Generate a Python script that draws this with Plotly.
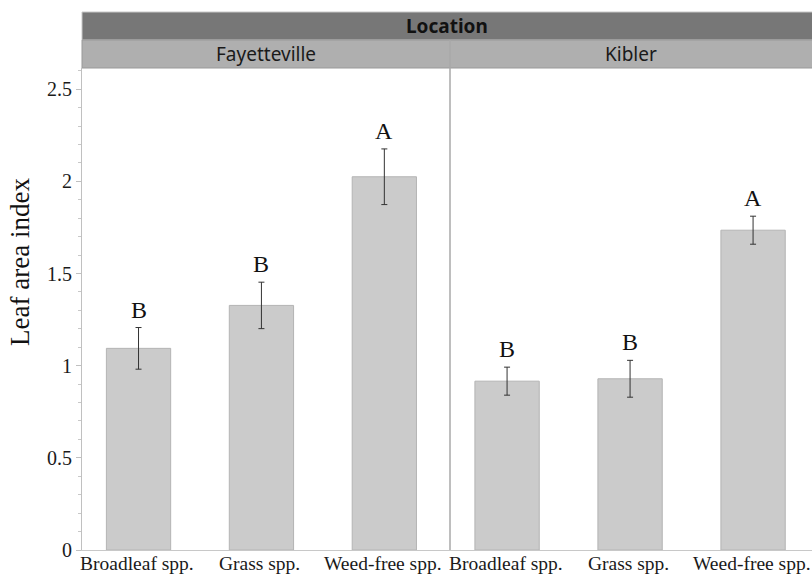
import plotly.graph_objects as go

# ---- data ----
categories = ["Broadleaf spp.", "Grass spp.", "Weed-free spp."]
locations = ["Fayetteville", "Kibler"]
fay_means = [1.094, 1.327, 2.025]
fay_errs = [0.113, 0.126, 0.151]
fay_letters = ["B", "B", "A"]
kib_means = [0.916, 0.929, 1.735]
kib_errs = [0.076, 0.100, 0.076]
kib_letters = ["B", "B", "A"]
y_ticks = [0, 0.5, 1, 1.5, 2, 2.5]
y_ticktext = ["0", "0.5", "1", "1.5", "2", "2.5"]

W, H = 812, 575
L, R, T, B = 82, 0, 68, 25
plot_w = W - L - R
plot_h = H - T - B
split = (450 - L) / plot_w

serif = "Liberation Serif, Times New Roman, serif"
sans = "Noto Sans, Open Sans, sans-serif"

fig = go.Figure()
xs = list(range(len(categories)))
for xa, means, errs in [("x", fay_means, fay_errs), ("x2", kib_means, kib_errs)]:
    fig.add_trace(go.Bar(
        x=xs, y=means, xaxis=xa, yaxis="y", width=0.523,
        marker=dict(color="#cbcbcb", line=dict(color="#b4b4b4", width=1)),
        error_y=dict(type="data", array=errs, color="#333333", thickness=1, width=3),
        showlegend=False, hoverinfo="skip",
    ))

tickfont = dict(family=serif, size=20, color="#1a1a1a")
xlabfont = dict(family=serif, size=19.5, color="#1a1a1a")

annotations = []
for xa, means, errs, letters in [("x", fay_means, fay_errs, fay_letters),
                                  ("x2", kib_means, kib_errs, kib_letters)]:
    for i, (m, e, lt) in enumerate(zip(means, errs, letters)):
        annotations.append(dict(
            x=i, y=m + e, xref=xa, yref="y", text=lt, showarrow=False,
            yanchor="bottom", yshift=3,
            font=dict(family=serif, size=24, color="#111111"),
        ))
    for i, cat in enumerate(categories):
        annotations.append(dict(
            x=i, y=0, xref=xa, yref="y", text=cat, showarrow=False,
            xanchor="center", yanchor="middle", yshift=-13, xshift=-1.5, font=xlabfont,
        ))

h1 = 28 / plot_h
annotations.append(dict(x=0.5, y=1 + h1 * 1.5, xref="paper", yref="paper", text="<b>Location</b>",
                        showarrow=False, xanchor="center", yanchor="middle",
                        font=dict(family=sans, size=19, color="#111111")))
annotations.append(dict(x=split / 2, y=1 + h1 * 0.5, xref="paper", yref="paper", text=locations[0],
                        showarrow=False, xanchor="center", yanchor="middle",
                        font=dict(family=sans, size=19, color="#1a1a1a")))
annotations.append(dict(x=(split + 1) / 2, y=1 + h1 * 0.5, xref="paper", yref="paper", text=locations[1],
                        showarrow=False, xanchor="center", yanchor="middle",
                        font=dict(family=sans, size=19, color="#1a1a1a")))
annotations.append(dict(x=(20 - L) / plot_w, y=(550 - 262) / plot_h, xref="paper", yref="paper",
                        text="Leaf area index", textangle=-90, showarrow=False,
                        xanchor="center", yanchor="middle",
                        font=dict(family=serif, size=27, color="#111111")))

shapes = [
    dict(type="rect", xref="paper", yref="paper", x0=0, x1=1.01, y0=1 + h1, y1=1 + 2 * h1,
         fillcolor="#777777", line=dict(color="#c8c8c8", width=1), layer="above"),
    dict(type="rect", xref="paper", yref="paper", x0=0, x1=1.01, y0=1, y1=1 + h1,
         fillcolor="#afafaf", line=dict(color="#999999", width=1), layer="above"),
    dict(type="line", xref="paper", yref="paper", x0=split, x1=split, y0=0, y1=1 + h1,
         line=dict(color="#a8a8a8", width=1.5), layer="above"),
]

xcommon = dict(tickvals=xs, showticklabels=False, showgrid=False,
               zeroline=False, showline=True, linecolor="#c8c8c8", linewidth=1,
               ticks="", fixedrange=True, anchor="y", automargin=False)

fig.update_layout(
    template="none",
    width=W, height=H,
    margin=dict(l=L, r=R, t=T, b=B, pad=0, autoexpand=False),
    paper_bgcolor="white", plot_bgcolor="white",
    bargap=0,
    xaxis=dict(domain=[0, split], range=[-0.460, -0.460 + (450 - L) / 122.9], **xcommon),
    xaxis2=dict(domain=[split, 1], range=[-0.464, -0.464 + (W - 450) / 123.0], **xcommon),
    yaxis=dict(range=[0, 2.615], tickvals=y_ticks, ticktext=y_ticktext, tickfont=tickfont,
               showgrid=False, zeroline=False, showline=True, linecolor="#c0c0c0", linewidth=1,
               ticks="outside", ticklen=5, tickcolor="#c0c0c0", automargin=False,
               fixedrange=True,
               minor=dict(dtick=0.1, ticks="outside", ticklen=3, tickcolor="#c8c8c8")),
    annotations=annotations,
    shapes=shapes,
)

fig.write_html(
    "out.html",
    config={"displayModeBar": False, "staticPlot": True},
    post_script=("document.documentElement.style.margin='0';"
                 "document.body.style.margin='0';"
                 "document.body.style.overflow='hidden';"
                 "document.documentElement.style.overflow='hidden';"),
)
